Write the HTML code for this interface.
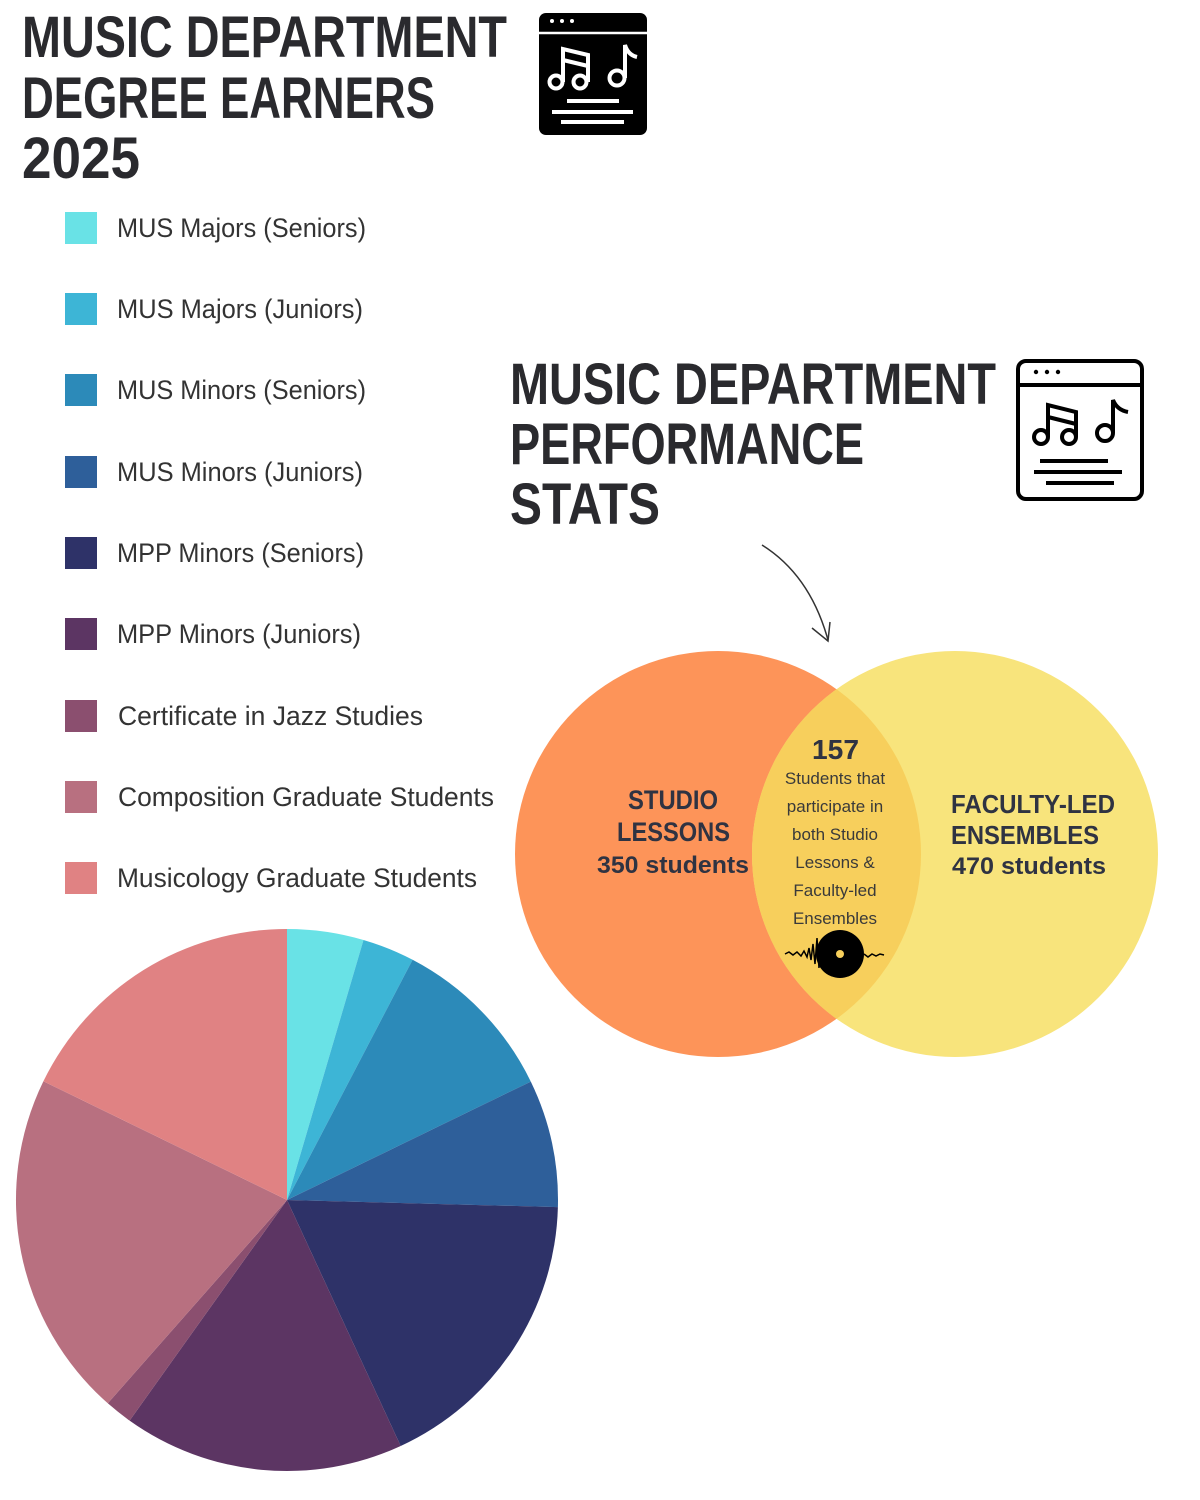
<!DOCTYPE html>
<html><head><meta charset="utf-8"><style>html,body{margin:0;padding:0;background:#fff}svg{display:block}</style></head>
<body>
<svg width="1200" height="1500" viewBox="0 0 1200 1500" xmlns="http://www.w3.org/2000/svg" font-family="Liberation Sans, sans-serif">
<rect width="1200" height="1500" fill="#fff"/>
<g font-weight="bold" font-size="58" fill="#2a2a2e">
<text x="22" y="57" textLength="485" lengthAdjust="spacingAndGlyphs">MUSIC DEPARTMENT</text>
<text x="22" y="118" textLength="413" lengthAdjust="spacingAndGlyphs">DEGREE EARNERS</text>
<text x="22" y="178" textLength="118" lengthAdjust="spacingAndGlyphs">2025</text>
<text x="510" y="404" textLength="486" lengthAdjust="spacingAndGlyphs">MUSIC DEPARTMENT</text>
<text x="510" y="464" textLength="354" lengthAdjust="spacingAndGlyphs">PERFORMANCE</text>
<text x="510" y="524" textLength="150" lengthAdjust="spacingAndGlyphs">STATS</text>
</g>
<!-- icon 1 filled -->
<g>
<rect x="539" y="13" width="108" height="122" rx="7" fill="#000"/>
<line x1="539" y1="33" x2="647" y2="33" stroke="#fff" stroke-width="2.5"/>
<circle cx="552" cy="21" r="2" fill="#fff"/><circle cx="562" cy="21" r="2" fill="#fff"/><circle cx="572" cy="21" r="2" fill="#fff"/>
<g stroke="#fff" stroke-width="4" fill="none">
<circle cx="556" cy="82" r="6.5"/><circle cx="580" cy="82" r="6.5"/>
<path d="M563 82 V49 L588 55 V82 M563 60 L588 66"/>
<circle cx="617" cy="78" r="7.5"/><path d="M625 78 V45 Q628 55 637 57"/>
<line x1="567" y1="101" x2="619" y2="101"/><line x1="552" y1="112" x2="633" y2="112"/><line x1="561" y1="122" x2="624" y2="122"/>
</g></g>
<!-- icon 2 outline -->
<g stroke="#000" stroke-width="4" fill="none">
<rect x="1018" y="361" width="124" height="138" rx="8"/>
<line x1="1018" y1="385" x2="1142" y2="385"/>
<circle cx="1041" cy="437" r="7"/><circle cx="1069" cy="437" r="7"/>
<path d="M1048 437 V405 L1076 412 V437 M1048 417 L1076 424"/>
<circle cx="1105" cy="433" r="8"/><path d="M1113 433 V400 Q1117 410 1128 412"/>
<line x1="1040" y1="461" x2="1108" y2="461"/><line x1="1034" y1="472" x2="1122" y2="472"/><line x1="1046" y1="483" x2="1114" y2="483"/>
</g>
<circle cx="1036" cy="372" r="2.2"/><circle cx="1047" cy="372" r="2.2"/><circle cx="1058" cy="372" r="2.2"/>
<!-- legend -->
<g font-size="27" fill="#333">
<rect x="65" y="212" width="32" height="32" fill="#69E2E6"/><text x="117" y="237" textLength="249" lengthAdjust="spacingAndGlyphs">MUS Majors (Seniors)</text>
<rect x="65" y="293" width="32" height="32" fill="#3DB5D6"/><text x="117" y="318" textLength="246" lengthAdjust="spacingAndGlyphs">MUS Majors (Juniors)</text>
<rect x="65" y="374" width="32" height="32" fill="#2C8AB9"/><text x="117" y="399" textLength="249" lengthAdjust="spacingAndGlyphs">MUS Minors (Seniors)</text>
<rect x="65" y="456" width="32" height="32" fill="#2E5F9A"/><text x="117" y="481" textLength="246" lengthAdjust="spacingAndGlyphs">MUS Minors (Juniors)</text>
<rect x="65" y="537" width="32" height="32" fill="#2E3268"/><text x="117" y="562" textLength="247" lengthAdjust="spacingAndGlyphs">MPP Minors (Seniors)</text>
<rect x="65" y="618" width="32" height="32" fill="#5C3563"/><text x="117" y="643" textLength="244" lengthAdjust="spacingAndGlyphs">MPP Minors (Juniors)</text>
<rect x="65" y="700" width="32" height="32" fill="#8B4F6F"/><text x="118" y="725" textLength="305" lengthAdjust="spacingAndGlyphs">Certificate in Jazz Studies</text>
<rect x="65" y="781" width="32" height="32" fill="#B87080"/><text x="118" y="806" textLength="376" lengthAdjust="spacingAndGlyphs">Composition Graduate Students</text>
<rect x="65" y="862" width="32" height="32" fill="#E08283"/><text x="117" y="887" textLength="360" lengthAdjust="spacingAndGlyphs">Musicology Graduate Students</text>
</g>
<!-- pie -->
<g>
<path d="M287 1200 L287 929 A271 271 0 0 1 363.5 940 Z" fill="#69E2E6"/>
<path d="M287 1200 L363.5 940 A271 271 0 0 1 412.6 959.8 Z" fill="#3DB5D6"/>
<path d="M287 1200 L412.6 959.8 A271 271 0 0 1 530.8 1081.6 Z" fill="#2C8AB9"/>
<path d="M287 1200 L530.8 1081.6 A271 271 0 0 1 557.9 1207.1 Z" fill="#2E5F9A"/>
<path d="M287 1200 L557.9 1207.1 A271 271 0 0 1 400.7 1446 Z" fill="#2E3268"/>
<path d="M287 1200 L400.7 1446 A271 271 0 0 1 129.6 1420.6 Z" fill="#5C3563"/>
<path d="M287 1200 L129.6 1420.6 A271 271 0 0 1 107.8 1403.3 Z" fill="#8B4F6F"/>
<path d="M287 1200 L107.8 1403.3 A271 271 0 0 1 43.4 1081.2 Z" fill="#B87080"/>
<path d="M287 1200 L43.4 1081.2 A271 271 0 0 1 287 929 Z" fill="#E08283"/>
</g>
<!-- arrow -->
<path d="M762 545 Q810 575 828 640" stroke="#333" stroke-width="1.5" fill="none"/>
<path d="M812 628 L828 641 L830 622" stroke="#333" stroke-width="1.5" fill="none"/>
<!-- venn -->
<circle cx="718" cy="854" r="203" fill="#FD9459"/>
<circle cx="955" cy="854" r="203" fill="#F8E47C"/>
<clipPath id="c"><circle cx="718" cy="854" r="203"/></clipPath>
<circle cx="955" cy="854" r="203" fill="#F7CF5C" clip-path="url(#c)"/>
<g font-weight="bold" fill="#2f3342">
<text x="628" y="809" font-size="27" textLength="90" lengthAdjust="spacingAndGlyphs">STUDIO</text>
<text x="617" y="841" font-size="27" textLength="113" lengthAdjust="spacingAndGlyphs">LESSONS</text>
<text x="597" y="873" font-size="24" textLength="152" lengthAdjust="spacingAndGlyphs">350 students</text>
<text x="812" y="759" font-size="28" textLength="47" lengthAdjust="spacingAndGlyphs">157</text>
<text x="951" y="813" font-size="26" textLength="164" lengthAdjust="spacingAndGlyphs">FACULTY-LED</text>
<text x="951" y="844" font-size="26" textLength="148" lengthAdjust="spacingAndGlyphs">ENSEMBLES</text>
<text x="952" y="874" font-size="24" textLength="154" lengthAdjust="spacingAndGlyphs">470 students</text>
</g>
<g font-size="17" fill="#3a3a3a" text-anchor="middle">
<text x="835" y="784">Students that</text>
<text x="835" y="812">participate in</text>
<text x="835" y="840">both Studio</text>
<text x="835" y="868">Lessons &amp;</text>
<text x="835" y="896">Faculty-led</text>
<text x="835" y="924">Ensembles</text>
</g>
<g>
<path d="M785 954 l4 -2 4 3 4 -3 4 4 3 -5 3 6 2 -9 2 12 2 -16 2 20 2 -26 2 30" stroke="#000" stroke-width="1.5" fill="none"/>
<circle cx="840" cy="954" r="24" fill="#000"/>
<circle cx="840" cy="954" r="4" fill="#F7CF5C"/>
<path d="M864 954 l4 3 4 -3 4 2 4 -2 4 1" stroke="#000" stroke-width="1.5" fill="none"/>
</g>
</svg>
</body></html>
